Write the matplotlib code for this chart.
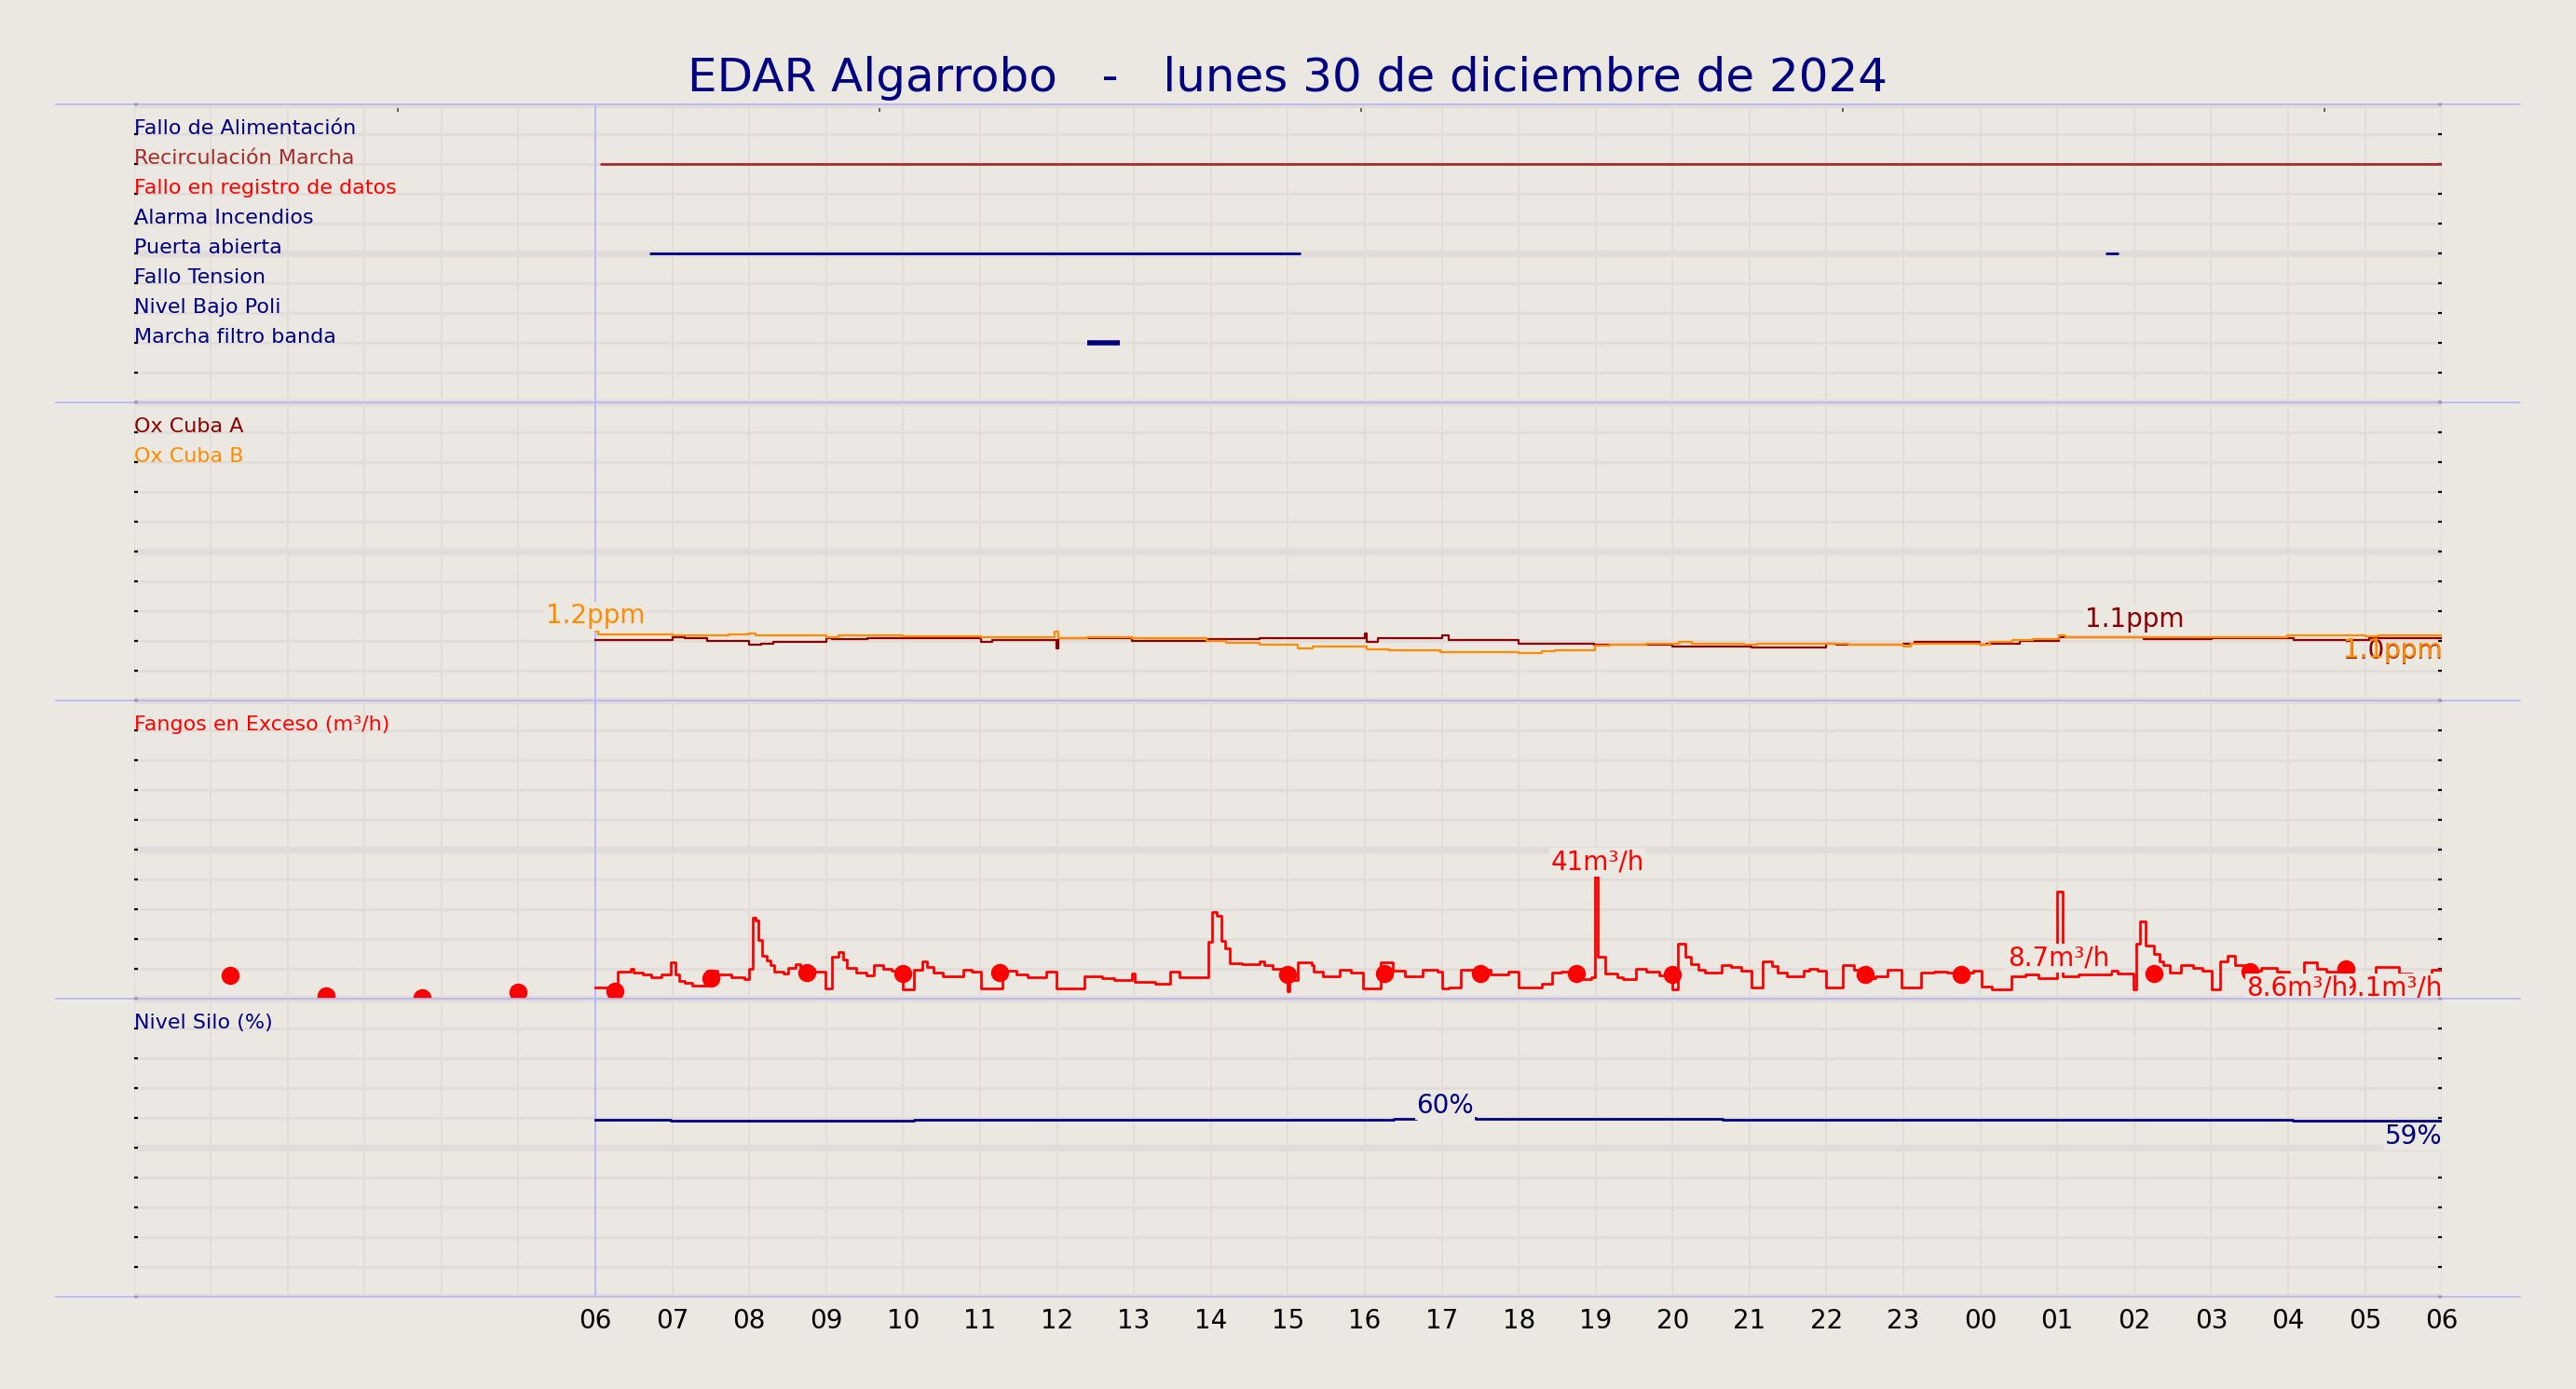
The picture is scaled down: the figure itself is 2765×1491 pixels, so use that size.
import matplotlib
matplotlib.use("Agg")
import matplotlib.pyplot as plt
from matplotlib.lines import Line2D
import numpy as np

BG = "#ebe7e1"
GRID = "#e1dcda"
EDGE = "#b4b4fb"

titulo = "EDAR Algarrobo   -   lunes 30 de diciembre de 2024"

# eje x en horas desde las 00:00 del dia anterior (0..30)
marcas_sup = [3.43, 9.69, 15.95, 22.21, 28.47]

# panel 1: senales digitales
senales = ["Fallo de Alimentación", "Recirculación Marcha", "Fallo en registro de datos",
           "Alarma Incendios", "Puerta abierta", "Fallo Tension", "Nivel Bajo Poli",
           "Marcha filtro banda"]
colores_senal = ["navy", "brown", "red", "navy", "navy", "navy", "navy", "navy"]
tramos = {
    "Recirculación Marcha": [(6.06, 30.0)],
    "Puerta abierta": [(6.70, 15.17), (25.63, 25.80)],
    "Marcha filtro banda": [(12.39, 12.82)],
}
grosor_senal = {"Marcha filtro banda": 2.0}

# panel 2: oxigeno (ppm), (hora, valor) escalonado
ox_a = [(6.00, 1.02), (7.00, 1.06), (7.16, 1.04), (7.45, 1.00), (8.00, 0.94), (8.16, 0.96),
        (8.31, 0.99), (9.00, 1.05), (9.08, 1.03), (9.54, 1.04), (11.01, 0.99), (11.16, 1.02),
        (11.99, 0.87), (12.02, 1.04), (12.97, 1.00), (13.97, 1.03), (14.63, 1.04), (16.00, 1.13),
        (16.03, 0.99), (16.17, 1.04), (17.01, 1.09), (17.09, 1.02), (18.00, 0.96), (18.98, 0.93),
        (20.00, 0.91), (20.17, 0.90), (21.02, 0.89), (22.00, 0.96), (22.13, 0.93), (23.00, 0.96),
        (23.14, 0.99), (23.99, 0.93), (24.08, 0.96), (24.51, 1.00), (25.02, 1.07), (26.12, 1.03),
        (27.01, 1.05), (28.07, 1.02), (29.05, 1.04)]
ox_b = [(6.00, 1.17), (6.04, 1.11), (7.00, 1.09), (7.73, 1.11), (8.00, 1.13), (8.08, 1.09),
        (9.00, 1.07), (9.16, 1.09), (9.99, 1.08), (11.01, 1.06), (11.97, 1.16), (12.02, 1.05),
        (12.39, 1.07), (12.97, 1.04), (13.94, 1.00), (14.20, 0.97), (14.63, 0.93), (15.13, 0.88),
        (15.32, 0.90), (16.02, 0.86), (16.32, 0.84), (16.98, 0.81), (18.00, 0.80), (18.30, 0.83),
        (18.47, 0.85), (18.99, 0.92), (19.19, 0.94), (19.66, 0.95), (19.91, 0.96), (20.08, 0.98),
        (20.25, 0.95), (20.93, 0.93), (21.10, 0.95), (21.61, 0.96), (22.29, 0.93), (23.00, 0.91),
        (23.10, 0.95), (23.74, 0.96), (23.99, 0.93), (24.12, 0.98), (24.42, 1.01), (24.68, 1.03),
        (25.02, 1.09), (25.10, 1.06), (27.06, 1.07), (27.99, 1.10), (29.01, 1.08), (29.18, 1.10)]
# (hora, valor, texto, color, va, ha, desplazamiento_pt, fondo)
ox_notas = [(6.00, 1.2, "1.2ppm", "darkorange", "bottom", "center", 0, True),
            (26.0, 1.1, "1.1ppm", "darkred", "bottom", "center", 1.0, True),
            (30.0, 1.04, "1.0ppm", "darkred", "top", "right", 0, False),
            (30.0, 1.10, "1.1ppm", "darkorange", "top", "right", -0.7, False)]

# panel 3: fangos en exceso (m3/h)
fangos = [
    (6.00, 3.6), (6.29, 9.2), (6.46, 9.9), (6.50, 8.6), (6.62, 8.0), (6.73, 7.2), (6.86, 8.2),
    (6.98, 12.3), (7.04, 8.0), (7.09, 5.9), (7.16, 5.3), (7.26, 4.3), (7.45, 9.4), (7.59, 8.2),
    (7.77, 7.2), (7.94, 6.7), (8.00, 9.9), (8.04, 27.3), (8.08, 26.1), (8.12, 19.6), (8.17, 14.4),
    (8.23, 12.8), (8.27, 11.1), (8.33, 9.2), (8.45, 8.4), (8.51, 10.3), (8.60, 11.7), (8.66, 9.9),
    (8.84, 9.2), (8.99, 3.4), (9.08, 14.2), (9.16, 15.7), (9.22, 13.2), (9.27, 10.3), (9.39, 8.6),
    (9.52, 7.8), (9.62, 11.1), (9.74, 10.1), (9.85, 9.4), (9.99, 3.2), (10.14, 9.6), (10.25, 12.6),
    (10.31, 10.5), (10.39, 8.8), (10.52, 7.6), (10.78, 9.6), (10.89, 9.2), (11.01, 3.4), (11.29, 9.4),
    (11.47, 8.0), (11.62, 7.2), (11.86, 9.0), (11.99, 3.4), (12.36, 7.6), (12.59, 7.0), (12.74, 6.3),
    (12.97, 8.4), (13.01, 5.7), (13.28, 5.1), (13.47, 9.2), (13.59, 7.2), (13.97, 19.2), (14.01, 29.1),
    (14.07, 27.7), (14.13, 19.4), (14.18, 16.8), (14.24, 11.9), (14.40, 11.7), (14.63, 12.6),
    (14.69, 11.1), (14.80, 10.1), (15.00, 2.5), (15.02, 6.1), (15.13, 12.3), (15.31, 11.1),
    (15.34, 9.0), (15.46, 7.4), (15.67, 9.6), (15.82, 8.8), (15.98, 3.4), (16.21, 12.1), (16.36, 9.4),
    (16.52, 7.6), (16.75, 9.6), (16.94, 9.2), (17.00, 3.4), (17.09, 3.8), (17.25, 9.6), (17.63, 8.2),
    (17.87, 9.2), (18.00, 3.6), (18.30, 4.9), (18.43, 8.6), (18.55, 9.2), (18.72, 6.7), (18.94, 7.2),
    (18.99, 41.0), (19.03, 14.0), (19.13, 8.4), (19.28, 7.2), (19.36, 6.5), (19.53, 10.1), (19.66, 9.2),
    (19.83, 7.8), (20.00, 3.2), (20.07, 18.4), (20.17, 14.2), (20.24, 11.7), (20.34, 9.6), (20.42, 8.6),
    (20.64, 11.3), (20.76, 10.5), (20.89, 9.4), (21.02, 3.6), (21.17, 12.6), (21.29, 10.9), (21.36, 8.6),
    (21.49, 7.6), (21.70, 9.4), (21.78, 10.1), (21.89, 9.4), (22.00, 3.6), (22.21, 11.3), (22.36, 9.6),
    (22.51, 7.0), (22.63, 7.4), (22.79, 9.6), (22.97, 3.6), (23.23, 8.6), (23.40, 9.2), (23.57, 8.6),
    (23.91, 9.4), (24.01, 4.0), (24.15, 3.2), (24.40, 7.6), (24.59, 8.0), (24.76, 7.0), (25.00, 35.8),
    (25.07, 7.6), (25.27, 8.0), (25.70, 9.4), (25.78, 8.4), (25.99, 3.2), (26.02, 18.4), (26.08, 26.0),
    (26.15, 17.7), (26.25, 15.0), (26.33, 12.6), (26.38, 11.1), (26.46, 8.6), (26.61, 11.3),
    (26.76, 10.3), (26.89, 9.4), (27.01, 3.2), (27.12, 12.6), (27.21, 14.4), (27.31, 11.3),
    (27.44, 9.4), (27.65, 10.3), (27.86, 9.2), (28.01, 3.6), (28.20, 12.3), (28.37, 10.1),
    (28.50, 9.0), (28.84, 3.6), (29.14, 10.7), (29.44, 8.4), (29.61, 8.0), (29.86, 9.6)]
fangos_puntos = [(1.25, 7.7), (2.50, 0.9), (3.75, 0.4), (5.00, 2.1), (6.25, 2.6), (7.50, 7.0),
                 (8.75, 8.7), (10.00, 8.4), (11.25, 8.8), (15.00, 8.2), (16.25, 8.4), (17.50, 8.4),
                 (18.75, 8.4), (20.00, 8.2), (22.50, 8.2), (23.75, 8.2), (26.25, 8.4), (27.50, 9.0),
                 (28.75, 10.1)]
fangos_notas = [(19.02, 41, "41m³/h", "red", "bottom", "center", 0.5, True),
                (25.02, 8.7, "8.7m³/h", "red", "bottom", "center", 0.5, True),
                (30.0, 9.1, "9.1m³/h", "red", "top", "right", -1.2, True),
                (28.12, 8.6, "8.6m³/h", "red", "top", "center", -0.6, True)]

# panel 4: nivel silo (%)
silo = [(6.00, 59.3), (6.98, 59.0), (10.14, 59.4), (16.38, 59.7), (16.67, 60.0), (17.44, 59.7),
        (20.65, 59.4), (28.06, 59.2)]
silo_notas = [(17.04, 60, "60%", "navy", "bottom", "center", -0.3, True),
              (30.0, 59, "59%", "navy", "top", "right", -1.0, True)]

etiquetas = [[("Ox Cuba A", "darkred"), ("Ox Cuba B", "darkorange")],
             [("Fangos en Exceso (m³/h)", "red")],
             [("Nivel Silo (%)", "navy")]]
rangos = [(10, 0), (0, 5), (0, 100), (0, 100)]


def escalones(ax, pares, color, lw):
    t, v = zip(*pares)
    t = list(t) + [30.0]
    v = list(v) + [v[-1]]
    ax.step(t, v, where="post", color=color, lw=lw, zorder=3)


def notas(ax, lista):
    for x, y, txt, col, va, ha, dy, fondo in lista:
        caja = dict(boxstyle="square,pad=0.05", fc=BG, ec="none") if fondo else None
        ax.annotate(txt, (x, y), xytext=(0, dy), textcoords="offset points",
                    color=col, fontsize=10, va=va, ha=ha, zorder=6, bbox=caja)


fig = plt.figure(figsize=(13.825, 7.455), dpi=200, facecolor=BG)
axes = fig.subplots(4, 1, sharex=True)
fig.subplots_adjust(left=0.0519, right=0.948, top=0.9249, bottom=0.0664, hspace=0)

for ax, (lo, hi) in zip(axes, rangos):
    a, b = min(lo, hi), max(lo, hi)
    ax.set_facecolor(BG)
    ax.set_xlim(0, 30)
    ax.set_ylim(lo, hi)
    ax.set_yticks(np.linspace(a, b, 3))
    ax.set_yticks(np.linspace(a, b, 11), minor=True)
    ax.set_xticks(np.arange(0, 31))
    ax.set_axisbelow(True)
    ax.grid(axis="y", which="major", color=GRID, lw=2.6)
    ax.grid(axis="y", which="minor", color=GRID, lw=1.0)
    ax.grid(axis="x", which="major", color=GRID, lw=0.7)
    ax.tick_params(axis="y", which="both", direction="in", left=True, right=True,
                   length=1.5, width=0.8, labelleft=False)
    ax.tick_params(axis="x", length=0, labelbottom=False)
    for s in ax.spines.values():
        s.set_visible(False)
    ax.axvline(6, color=EDGE, lw=0.6, zorder=1.5)

# panel 1
ax1 = axes[0]
for i, (nombre, col) in enumerate(zip(senales, colores_senal)):
    ax1.text(0, i + 1, nombre, color=col, fontsize=8, va="baseline", ha="left", zorder=5)
    for ini, fin in tramos.get(nombre, []):
        ax1.hlines(i + 1, ini, fin, color=col, lw=grosor_senal.get(nombre, 1.0), zorder=3)
sec = ax1.secondary_xaxis("top")
sec.set_xticks(marcas_sup)
sec.set_xticklabels([])
sec.tick_params(direction="in", length=3, width=0.6, color="#444444")
sec.spines["top"].set_visible(False)

# panel 2
ax2 = axes[1]
escalones(ax2, ox_a, "darkred", 0.8)
escalones(ax2, ox_b, "darkorange", 0.8)
notas(ax2, ox_notas)

# panel 3
ax3 = axes[2]
escalones(ax3, fangos, "red", 1.0)
pt, pv = zip(*fangos_puntos)
ax3.plot(pt, pv, "o", color="red", ms=6, zorder=4)
notas(ax3, fangos_notas)

# panel 4
ax4 = axes[3]
escalones(ax4, silo, "navy", 1.0)
notas(ax4, silo_notas)

for ax, (lo, hi), etq in zip(axes[1:], rangos[1:], etiquetas):
    paso = (hi - lo) / 10
    for k, (txt, col) in enumerate(etq):
        ax.text(0, hi - paso * (k + 1), txt, color=col, fontsize=8, va="baseline",
                ha="left", zorder=5)

ax4.set_xticklabels(["" if h < 6 else f"{h % 24:02d}" for h in range(31)])
ax4.tick_params(axis="x", labelbottom=True, labelsize=10, pad=4.3)

# lineas separadoras
for ax in axes:
    pos = ax.get_position()
    fig.add_artist(Line2D([0.0217, 0.9783], [pos.y1, pos.y1], transform=fig.transFigure,
                          color=EDGE, lw=0.6))
fig.add_artist(Line2D([0.0217, 0.9783], [axes[-1].get_position().y0] * 2,
                      transform=fig.transFigure, color=EDGE, lw=0.6))

fig.text(0.5, 0.934, titulo, ha="center", va="baseline", fontsize=18, color="navy")

fig.savefig("out.png", dpi=200, facecolor=BG)
